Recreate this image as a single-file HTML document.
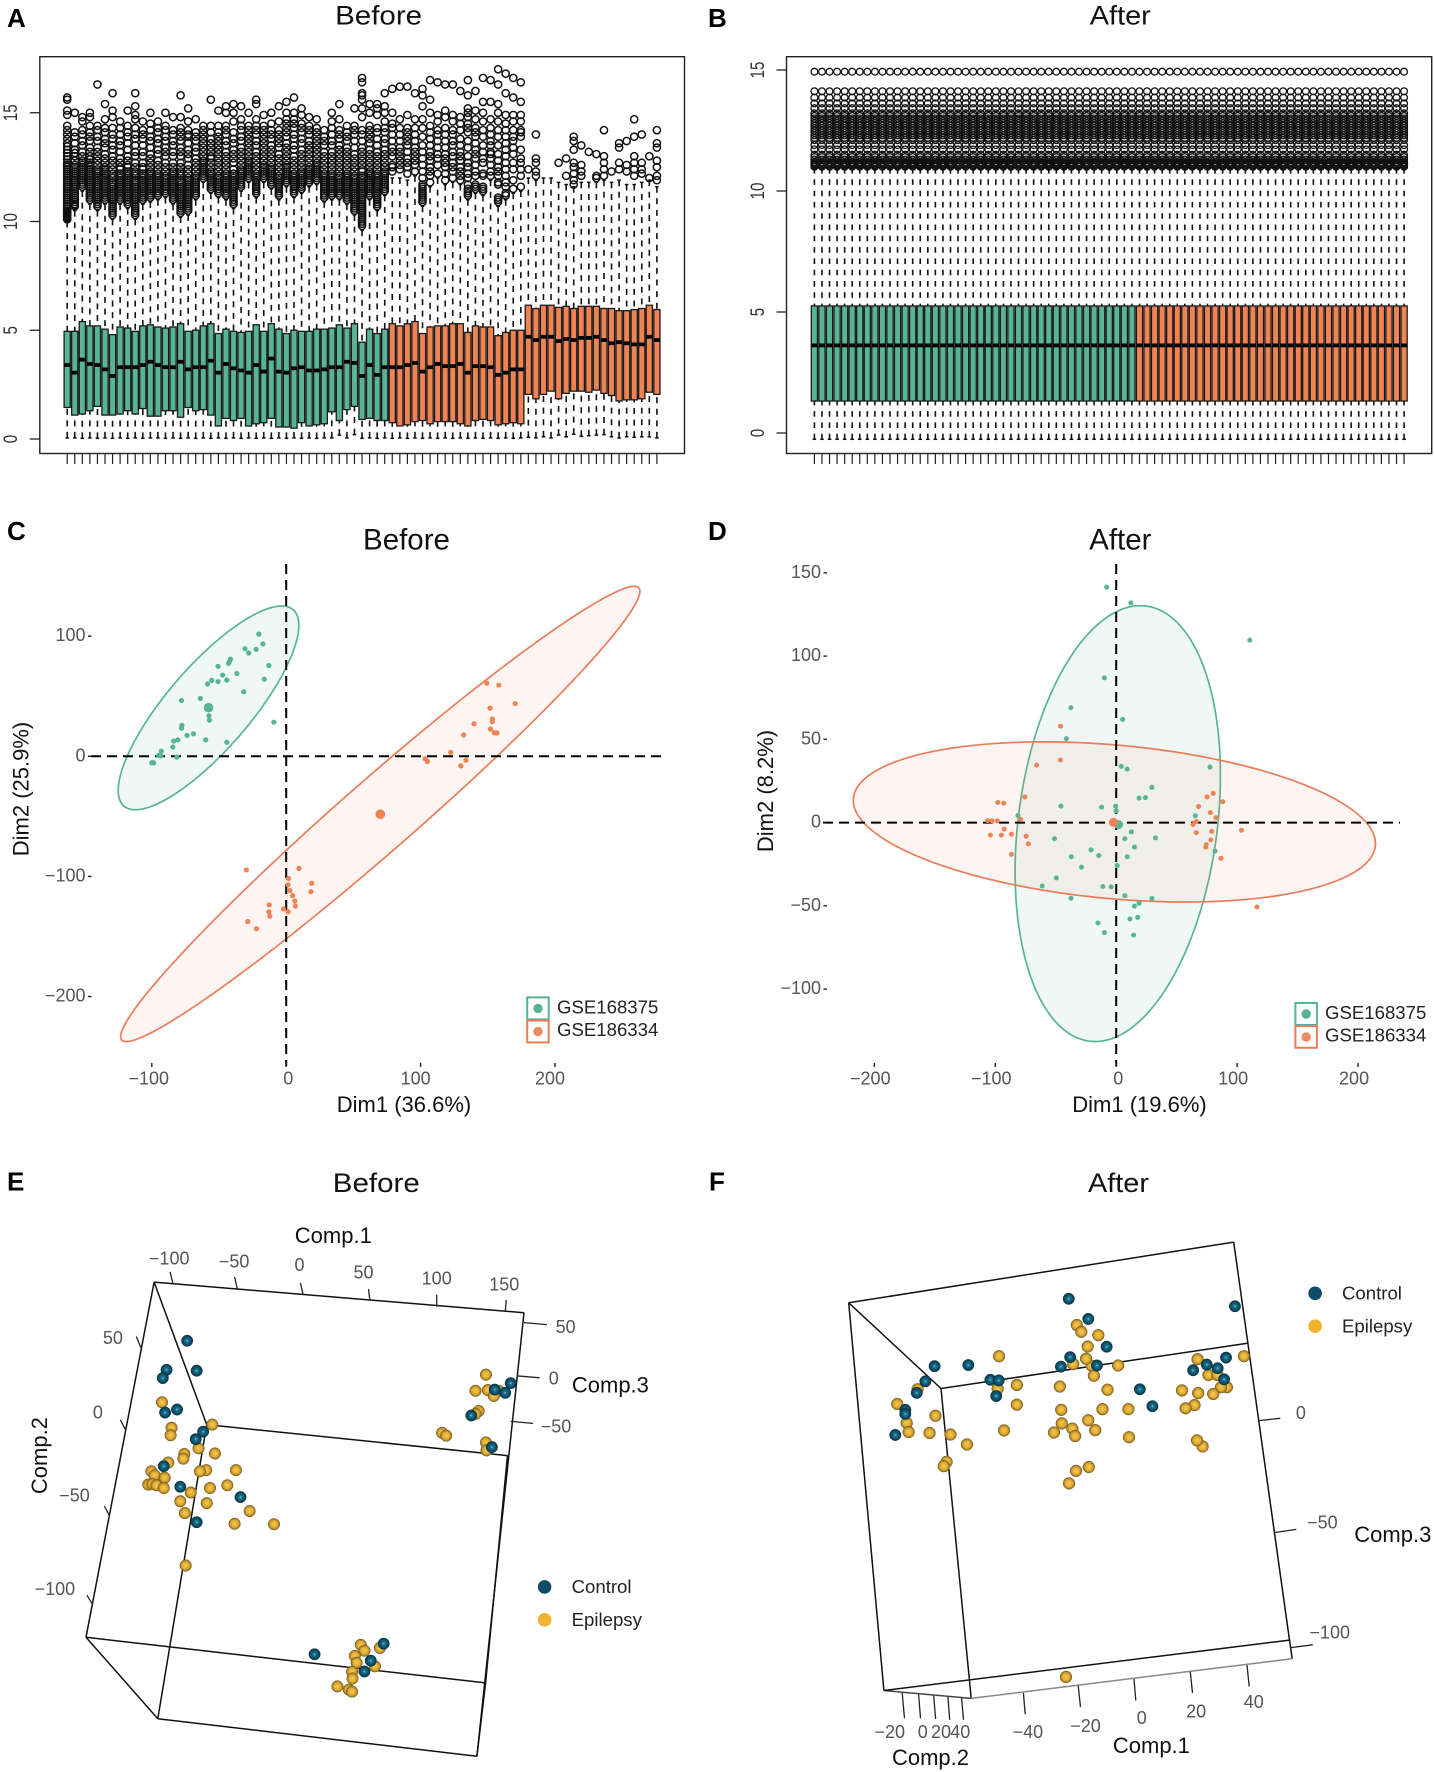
<!DOCTYPE html>
<html lang="en">
<head>
<meta charset="utf-8">
<title>Batch effect before and after correction</title>
<style>
html,body{margin:0;padding:0;background:#fff;width:1434px;height:1772px;overflow:hidden}
svg{display:block;font-family:"Liberation Sans",sans-serif}
.title{font-size:29.5px;text-anchor:middle;fill:#111}
.title-wide{font-size:27px;text-anchor:middle;fill:#111}
.letter{font-size:26px;font-weight:bold;fill:#000}
.axis-label{font-size:22px;text-anchor:middle;fill:#111}
.tick3d{font-size:18px;text-anchor:middle;fill:#555}
.legend-text{font-size:18.6px;fill:#222}
.box3d line{stroke:#111;stroke-width:1.5}
.ticks3d line{stroke:#222;stroke-width:1.3}
</style>
</head>
<body>
<svg id="figure" xmlns="http://www.w3.org/2000/svg" width="1434" height="1772" viewBox="0 0 1434 1772">
<defs>
<radialGradient id="sphere-control" cx="50%" cy="50%" r="55%">
<stop offset="0" stop-color="#8fd6e2"/><stop offset="0.2" stop-color="#1d7590"/><stop offset="0.62" stop-color="#0e4f69"/><stop offset="1" stop-color="#08303f"/>
</radialGradient>
<radialGradient id="sphere-epilepsy" cx="50%" cy="50%" r="55%">
<stop offset="0" stop-color="#f5cb52"/><stop offset="0.55" stop-color="#e0ab33"/><stop offset="1" stop-color="#75591c"/>
</radialGradient>
</defs>

<text class="letter" x="7" y="27">A</text>
<text class="letter" x="708" y="27">B</text>
<text class="letter" x="7" y="540">C</text>
<text class="letter" x="708" y="540">D</text>
<text class="letter" x="7" y="1190.5">E</text>
<text class="letter" x="709" y="1190.5">F</text>

<text class="title-wide" x="378.6" y="24.5" textLength="87" lengthAdjust="spacingAndGlyphs">Before</text>
<text class="title-wide" x="1120.3" y="24.5" textLength="61" lengthAdjust="spacingAndGlyphs">After</text>
<text class="title" x="406.5" y="549.5">Before</text>
<text class="title" x="1120.3" y="549.5">After</text>
<text class="title-wide" x="376.3" y="1192" textLength="87" lengthAdjust="spacingAndGlyphs">Before</text>
<text class="title-wide" x="1118.5" y="1192" textLength="61" lengthAdjust="spacingAndGlyphs">After</text>

<g id="panel-a"></g>
<g id="panel-b"></g>
<g id="panel-c"></g>
<g id="panel-d"></g>

<text class="axis-label" x="404" y="1112">Dim1 (36.6%)</text>
<text class="axis-label" transform="translate(20.6,789) rotate(-90)" y="8">Dim2 (25.9%)</text>
<text class="axis-label" x="1139.5" y="1112">Dim1 (19.6%)</text>
<text class="axis-label" transform="translate(765,791) rotate(-90)" y="8">Dim2 (8.2%)</text>

<g>
<rect x="527.2" y="997.4" width="21.5" height="22" fill="#fff" stroke="#55b295" stroke-width="2"/>
<circle cx="538" cy="1008.4" r="4.7" fill="#55b295"/>
<text class="legend-text" x="557" y="1013.5">GSE168375</text>
<rect x="527.2" y="1020.6" width="21.5" height="21.8" fill="#fff" stroke="#e87d5a" stroke-width="2"/>
<circle cx="538" cy="1031.5" r="4.7" fill="#ee8a62"/>
<text class="legend-text" x="557" y="1036">GSE186334</text>
</g>
<g>
<rect x="1295.4" y="1003" width="21.5" height="22" fill="#fff" stroke="#55b295" stroke-width="2"/>
<circle cx="1306.2" cy="1014" r="4.7" fill="#55b295"/>
<text class="legend-text" x="1325" y="1019">GSE168375</text>
<rect x="1295.4" y="1026" width="21.5" height="21.8" fill="#fff" stroke="#e87d5a" stroke-width="2"/>
<circle cx="1306.2" cy="1037" r="4.7" fill="#ee8a62"/>
<text class="legend-text" x="1325" y="1041.5">GSE186334</text>
</g>

<!-- Panel E frame -->
<g class="box3d">
<line x1="154.1" y1="1282.1" x2="524" y2="1312.7"/>
<line x1="154.1" y1="1282.1" x2="86" y2="1637.3"/>
<line x1="154.1" y1="1282.1" x2="206.7" y2="1424.6"/>
<line x1="206.7" y1="1424.6" x2="507.5" y2="1455.6"/>
<line x1="206.7" y1="1424.6" x2="157.8" y2="1718.7"/>
<line x1="86" y1="1637.3" x2="485.6" y2="1682.9"/>
<line x1="86" y1="1637.3" x2="157.8" y2="1718.7"/>
<line x1="157.8" y1="1718.7" x2="476.9" y2="1756.3"/>
<line x1="524" y1="1312.7" x2="476.9" y2="1756.3"/>
<line x1="507.5" y1="1455.6" x2="485.6" y2="1682.9"/>
<line x1="485.6" y1="1682.9" x2="476.9" y2="1756.3"/>
</g>
<g class="ticks3d">
<line x1="170.1" y1="1271.8" x2="172.8" y2="1282.9"/><line x1="234.6" y1="1277" x2="237.3" y2="1288.9"/><line x1="300.4" y1="1282.9" x2="303.2" y2="1294.8"/><line x1="368.5" y1="1288.9" x2="369.9" y2="1300.8"/><line x1="436.7" y1="1294.8" x2="436.7" y2="1306.7"/><line x1="506.2" y1="1300" x2="505.3" y2="1311.9"/>
<line x1="136.3" y1="1336.5" x2="140.8" y2="1347.6"/><line x1="120.3" y1="1419.8" x2="125.7" y2="1430.2"/><line x1="104.3" y1="1506" x2="109.7" y2="1515.9"/><line x1="86.9" y1="1595.2" x2="92.8" y2="1604.8"/>
<line x1="524" y1="1322.6" x2="546.9" y2="1324.6"/><line x1="516.7" y1="1375.8" x2="539.6" y2="1377.8"/><line x1="510.7" y1="1421.4" x2="533.1" y2="1423.4"/>
</g>
<g>
<text class="tick3d" x="169.2" y="1264.5">−100</text>
<text class="tick3d" x="234.1" y="1267.5">−50</text>
<text class="tick3d" x="299.5" y="1270.8">0</text>
<text class="tick3d" x="363.5" y="1278.7">50</text>
<text class="tick3d" x="436.7" y="1284.7">100</text>
<text class="tick3d" x="504.3" y="1290.6">150</text>
<text class="tick3d" x="112.9" y="1343.8">50</text>
<text class="tick3d" x="97.9" y="1418.4">0</text>
<text class="tick3d" x="74.5" y="1501.7">−50</text>
<text class="tick3d" x="54.9" y="1595">−100</text>
<text class="tick3d" x="565.6" y="1333.1">50</text>
<text class="tick3d" x="553.7" y="1384.7">0</text>
<text class="tick3d" x="556" y="1432.7">−50</text>
</g>
<text class="axis-label" x="333.3" y="1243">Comp.1</text>
<text class="axis-label" transform="translate(38.9,1455.6) rotate(-90)" y="8">Comp.2</text>
<text class="axis-label" x="610.4" y="1392.6">Comp.3</text>

<!-- Panel F frame -->
<g class="box3d">
<line x1="848.7" y1="1302.8" x2="1233.7" y2="1242.1"/>
<line x1="848.7" y1="1302.8" x2="883.9" y2="1690.5"/>
<line x1="848.7" y1="1302.8" x2="941" y2="1388.5"/>
<line x1="941" y1="1388.5" x2="1247.4" y2="1343.3"/>
<line x1="941" y1="1388.5" x2="971.2" y2="1698.4"/>
<line x1="1233.7" y1="1242.1" x2="1289.5" y2="1640.1"/>
<line x1="1289.5" y1="1640.1" x2="1292.2" y2="1658.7"/>
<line x1="883.9" y1="1690.5" x2="971.2" y2="1698.4" style="stroke:#444"/>
<line x1="883.9" y1="1690.5" x2="1289.5" y2="1640.1"/>
<line x1="971.2" y1="1698.4" x2="1292.2" y2="1658.7" style="stroke:#888"/>
</g>
<g class="ticks3d">
<line x1="902.2" y1="1692.9" x2="904.5" y2="1718.3"/><line x1="918.6" y1="1694.4" x2="920.5" y2="1718.3"/><line x1="933.7" y1="1695.6" x2="935.6" y2="1719"/><line x1="947.9" y1="1696.8" x2="949.7" y2="1719.8"/><line x1="961.6" y1="1698" x2="963.5" y2="1719.8"/>
<line x1="1023.4" y1="1692.9" x2="1025.2" y2="1714.3"/><line x1="1078.2" y1="1685.7" x2="1080.5" y2="1707.1"/><line x1="1134" y1="1679" x2="1135.8" y2="1700.4"/><line x1="1190.3" y1="1671.8" x2="1192.5" y2="1692.9"/><line x1="1247" y1="1665.1" x2="1249.2" y2="1686.5"/>
<line x1="1258.8" y1="1420.6" x2="1280.3" y2="1418.3"/><line x1="1274.8" y1="1532.5" x2="1296.3" y2="1529.4"/><line x1="1290.8" y1="1647.6" x2="1312.8" y2="1644.8"/>
</g>
<g>
<text class="tick3d" x="889.8" y="1738.2">−20</text>
<text class="tick3d" x="922.8" y="1738.2">0</text>
<text class="tick3d" x="941" y="1738.2">20</text>
<text class="tick3d" x="960.3" y="1738.2">40</text>
<text class="tick3d" x="1027.9" y="1738.2">−40</text>
<text class="tick3d" x="1085.5" y="1731.9">−20</text>
<text class="tick3d" x="1141.8" y="1724">0</text>
<text class="tick3d" x="1196.2" y="1717.6">20</text>
<text class="tick3d" x="1253.8" y="1708.1">40</text>
<text class="tick3d" x="1300.9" y="1419.2">0</text>
<text class="tick3d" x="1322.4" y="1528.7">−50</text>
<text class="tick3d" x="1329.7" y="1638.6">−100</text>
</g>
<text class="axis-label" x="1151.4" y="1753">Comp.1</text>
<text class="axis-label" x="930.5" y="1765">Comp.2</text>
<text class="axis-label" x="1392.8" y="1541.8">Comp.3</text>

<g id="points-e"></g>
<g id="points-f"></g>

<g>
<circle cx="544.6" cy="1586.9" r="6.8" fill="#0e4c68"/>
<text class="legend-text" x="571.6" y="1593">Control</text>
<circle cx="544.6" cy="1619.8" r="6.8" fill="#efb32f"/>
<text class="legend-text" x="571.6" y="1626">Epilepsy</text>
</g>
<g>
<circle cx="1315.1" cy="1293.3" r="6.8" fill="#0e4c68"/>
<text class="legend-text" x="1342" y="1299.5">Control</text>
<circle cx="1315.1" cy="1326.2" r="6.8" fill="#efb32f"/>
<text class="legend-text" x="1342" y="1332.5">Epilepsy</text>
</g>
</svg>

<script>
// ---------- Panel A data ----------
const groupCounts = [43, 36];
const q1A = [1.45,1.1,1.15,1.3,1.5,1.1,1.1,1.15,1.3,1.15,1.4,1.05,1.05,1.3,1.3,1.0,1.45,1.3,1.35,1.1,.6,.95,.85,.95,.6,.7,.75,.95,.55,.55,.5,.75,.6,.65,.7,1.25,.85,1.35,1.5,.9,.95,.85,.85,
 .75,.6,.65,.8,.85,.7,.8,.8,.8,.7,.6,.85,.9,.85,.65,.7,.75,.7,
 2.05,1.85,2.05,2.2,1.85,2.1,2.2,2.2,2.15,2.25,2.1,2.0,1.75,1.8,1.8,1.85,2.15,2.05];
const medA = [3.4,3.05,3.65,3.45,3.4,3.2,2.9,3.3,3.3,3.3,3.4,3.55,3.4,3.3,3.3,3.55,3.2,3.3,3.3,3.6,3.05,3.45,3.25,3.15,3.05,3.4,3.1,3.7,3.1,3.05,3.25,3.3,3.15,3.15,3.2,3.3,3.3,3.55,3.5,2.9,3.4,2.95,3.3,
 3.3,3.3,3.4,3.5,3.1,3.3,3.45,3.35,3.35,3.45,3.05,3.35,3.35,3.3,2.95,3.05,3.2,3.2,
 4.7,4.55,4.7,4.7,4.5,4.6,4.55,4.65,4.65,4.7,4.55,4.4,4.45,4.4,4.35,4.35,4.7,4.55];
const q3A = [4.95,4.95,5.4,5.2,5.2,5.05,4.8,5.15,5.1,4.95,5.2,5.25,5.15,5.1,5.15,5.3,4.95,5.0,5.2,5.3,4.85,5.05,4.95,4.9,4.95,5.25,4.95,5.3,5.05,4.85,5.0,4.95,4.95,5.05,5.05,5.1,5.25,5.1,5.3,4.45,5.05,4.85,5.05,
 5.3,5.2,5.3,5.4,4.85,5.15,5.2,5.2,5.3,5.3,4.9,5.2,5.15,5.15,4.75,4.9,5.0,5.0,
 6.15,6.0,6.15,6.15,6.05,6.1,6.0,6.1,6.1,6.1,6.0,6.0,5.9,5.9,5.95,6.0,6.15,5.95];
const whiskerHiA = [10,10.5,11.4,10.8,10.5,10.8,10.1,10.8,10.6,10.1,10.8,10.9,11,11.1,10.8,10.2,10.3,11,11.8,11.3,11.1,11,10.6,11.4,11.8,11.1,11.8,11.5,11,11.6,11.1,11.3,11.6,11.7,10.9,11,11,10.8,10.3,9.6,11,10.5,11.2,
 12,12,11.9,12.1,10.7,11.6,12,11.7,11.8,11.7,11,11.3,11.2,11.9,10.7,11,11.3,11.4,
 12,11.9,12,12,11.8,11.7,11.6,11.8,11.8,11.8,11.9,11.8,11.9,11.7,11.7,11.8,11.9,11.6];
const whiskerLoA = [.05,.05,.03,.05,.03,.05,.03,.05,.03,.05,.03,.05,.05,.03,.05,.03,.05,.03,.05,.03,.05,.03,.05,.03,.05,.03,.05,.03,.05,.03,.05,.03,.05,.03,.05,.05,.18,.05,.2,.03,.05,.03,.05,
 .03,.05,.03,.05,.03,.05,.03,.05,.03,.05,.03,.05,.03,.05,.03,.05,.03,.05,
 .08,.05,.1,.05,.18,.1,.22,.12,.15,.18,.2,.1,.05,.1,.08,.1,.1,.05];
const outliersA = [
[10.1,10.2,10.3,10.4,10.5,10.7,10.9,11.1,11.3,11.5,11.7,11.9,12.2,12.4,12.7,13,13.3,13.6,14,14.2,14.4,14.9,15.1,15.6,15.7],
[10.7,10.8,11,11.2,11.4,11.7,12,12.3,12.6,13.3,13.9,14.1,15],
[11.6,11.9,12.2,12.6,13,13.5,14,14.6,14.8],
[11,11.1,11.3,11.5,11.7,12,12.3,12.7,13.2,13.7,14.1,14.8,15],
[10.7,10.8,11,11.2,11.4,11.7,12,12.4,12.8,13.2,13.7,14.2,14.4,16.3],
[11,11.2,11.5,11.8,12.1,12.5,12.9,13.4,13.8,14.3,14.7,15.4],
[10.3,10.4,10.6,10.8,11,11.3,11.6,12,12.4,12.8,13.3,13.8,14.3,14.8,15.1,15.9],
[11,11.2,11.4,11.7,12,12.4,12.9,13.5,14,14.6],
[10.8,11,11.2,11.4,11.7,12,12.3,12.8,13.3,13.9,14.4,15.1],
[10.3,10.4,10.6,10.9,11.1,11.4,11.7,12.1,12.5,13,13.5,14,14.7,14.9,15.3,15.9],
[11,11.2,11.4,11.6,11.9,12.2,12.7,13.2,13.8,14.2,14.6],
[11.1,11.2,11.4,11.7,12,12.3,12.7,13.1,13.7,14.2,15],
[11.2,11.4,11.6,11.9,12.2,12.6,13.1,13.6,14.1,14.6],
[11.3,11.5,11.8,12.1,12.5,13,13.4,13.9,14.4,15],
[11,11.2,11.4,11.7,12,12.3,12.7,13.2,13.7,14.2,14.8],
[10.4,10.5,10.7,10.9,11.1,11.4,11.7,12.1,12.5,13,13.4,13.9,14.3,14.8,15.8],
[10.5,10.7,10.9,11.1,11.4,11.7,12,12.4,12.9,13.3,13.9,14.2,14.6,15.2],
[11.2,11.4,11.6,11.9,12.3,12.7,13.2,13.7,14.1,14.7],
[12,12.2,12.5,12.8,13.2,13.6,14,14.2,14.4],
[11.5,11.7,12,12.3,12.7,13,13.4,13.8,14.1,14.4,15.6],
[11.3,11.5,11.8,12.1,12.5,12.9,13.3,13.7,14.1,14.4,15.1],
[11.2,11.4,11.6,11.9,12.2,12.6,13,13.5,14,14.4,15,15.3],
[10.8,10.9,11.1,11.3,11.6,11.9,12.2,12.7,13.1,13.6,14.1,14.6,15,15.4],
[11.6,11.8,12.1,12.4,12.8,13.2,13.7,14.2,14.7,15.3],
[12,12.2,12.5,12.8,13.2,13.6,14,14.4,15],
[11.3,11.5,11.7,12,12.4,12.8,13.2,13.7,14.2,14.7,15.4,15.6],
[12,12.2,12.4,12.8,13.2,13.6,14,14.4,14.9],
[11.7,11.9,12.2,12.5,12.9,13.3,13.8,14.2,14.5,15],
[11.2,11.3,11.5,11.8,12.1,12.5,12.9,13.4,13.8,14.2,14.6,15.3],
[11.8,12,12.3,12.6,13,13.4,13.9,14.3,14.7,15,15.5],
[11.3,11.5,11.7,12,12.4,12.8,13.3,13.8,14.3,14.7,15,15.7],
[11.5,11.7,12,12.3,12.7,13.1,13.6,14.1,14.5,14.9,15.2],
[11.8,12,12.3,12.7,13.1,13.5,14,14.4,14.8],
[11.9,12.1,12.4,12.7,13.1,13.5,13.9,14.3,14.7],
[11.1,11.2,11.4,11.6,11.9,12.2,12.6,13,13.5,13.9,14.2],
[11.2,11.4,11.6,11.9,12.2,12.6,13,13.5,14,14.6,15],
[11.2,11.3,11.5,11.8,12.1,12.5,12.9,13.3,13.8,14.2,14.7,15.4],
[11,11.2,11.4,11.6,11.9,12.2,12.6,13,13.4,13.9,14.4],
[10.5,10.6,10.8,11,11.2,11.5,11.8,12.1,12.5,12.9,13.4,14,14.4,15.2],
[9.8,9.9,10,10.2,10.4,10.6,10.9,11.2,11.5,11.8,12.1,12.4,12.8,13.2,13.7,14.2,14.8,15.2,15.6,15.8,15.9,16.4,16.6],
[11.2,11.3,11.5,11.7,12,12.3,12.7,13.1,13.6,14,14.4,15,15.4],
[10.7,10.8,11,11.2,11.4,11.7,12,12.4,12.8,13.2,13.8,14.3,14.9,15.2,15.4],
[11.4,11.5,11.7,12,12.3,12.7,13.1,13.6,14.1,14.6,15,15.3,15.9],
[12.3,12.6,13,13.4,14,14.3,15,16.1],
[12.4,12.6,13,13.4,14,14.7,16.2],
[12.2,12.5,12.9,13.5,13.9,14.3,14.9,16.2],
[12.3,12.6,13,13.4,14,14.7,15.9],
[10.9,11,11.2,11.4,11.7,12,12.6,13.2,13.9,14.7,15.3,15.8,16.1],
[11.8,12.1,12.5,13,13.5,14.4,15.6,16.5],
[12.2,12.6,13.1,13.7,14.2,14.9,16.4],
[11.9,12.2,12.5,12.9,13.4,14,14.8,15.1,16.3],
[12,12.3,12.7,13.2,13.7,14.2,14.9,16.3],
[11.9,12.1,12.5,13,13.5,14.2,14.8,16],
[11.2,11.4,11.7,12.2,12.7,13.4,14.1,14.5,15,15.2,15.8,16.5],
[11.5,11.7,12.3,12.9,13.3,13.9,14.3,15.1,16],
[11.4,11.5,12.2,12.7,13.2,13.9,14.6,15.5,16.6],
[12.1,12.3,12.9,13.2,13.7,14.3,15.5,16.5],
[10.9,11,11.7,12.1,12.5,13.1,13.9,14.6,15.4,16.3,17],
[11.2,11.3,11.8,12.4,13,13.6,14.2,14.9,15.9,16.8],
[11.5,12.4,13.1,13.7,14.2,14.9,15.7,16.6],
[11.6,12.1,12.9,13.9,14.2,14.6,14.9,15.5,16.4],
[12.4],
[12.1,12.3,12.7,12.9,14],
[],
[],
[12.7],
[12.1,12.9],
[11.7,11.9,12.2,12.5,12.7,13.3,13.7,13.9],
[12.1,12.3,12.6,13.5],
[13.2],
[12,12.1,13.1],
[12.1,12.4,12.7,13,14.2],
[12.3],
[12.4,12.7,13.4,13.6],
[12.3,12.6,13.7],
[12.1,12.4,12.7,13,13.9,14.7],
[12.2,12.4,12.7,14],
[12,13],
[11.9,12.1,12.5,12.8,13.4,13.6,14.2]
];
const denseOutliersA = [
[10.15,10.25,10.35,10.45,10.6,10.8,11,11.2,11.4,11.6,11.8,12,12.1,12.3,12.5,12.6,12.85,13.15,13.45,13.8],
[10.75,10.9,11.1,11.3,11.5,11.6,11.8,11.9,12.1,12.2,12.4,12.5,12.8,13,13.15,13.6],
[11.7,11.8,12,12.1,12.3,12.4,12.5,12.7,12.8,13.2,13.7,14.2],
[11.2,11.4,11.6,11.8,11.9,12.1,12.2,12.4,12.5,12.6,12.85,13,13.4,13.9,14.4],
[10.9,11.1,11.3,11.5,11.6,11.8,11.9,12.1,12.2,12.3,12.6,13,13.4,13.9],
[11.1,11.3,11.4,11.6,11.7,11.9,12,12.2,12.3,12.4,12.7,13.1,13.6,14.1],
[10.5,10.7,10.9,11.1,11.2,11.4,11.5,11.7,11.8,12.1,12.2,12.6,13,13.5,14],
[11.1,11.3,11.5,11.6,11.8,11.9,12.1,12.2,12.5,12.7,13.2,13.7,14.3],
[10.9,11.1,11.3,11.5,11.6,11.8,11.9,12.1,12.2,12.5,12.6,13,13.6,14.1],
[10.5,10.7,10.8,11,11.2,11.3,11.5,11.6,11.8,11.9,12.2,12.3,12.7,13.2,13.8,14.3],
[11.1,11.3,11.5,11.7,11.8,12,12.1,12.4,12.5,13,13.5,14],
[11.3,11.5,11.6,11.8,11.9,12.1,12.2,12.5,12.9,13.4,13.9,14.5],
[11.3,11.5,11.7,11.8,12,12.1,12.4,12.8,13.3,13.8,14.3],
[11.4,11.6,11.7,11.9,12,12.3,12.7,13.2,13.7,14.2],
[11.1,11.3,11.5,11.6,11.8,11.9,12.1,12.2,12.5,13,13.5,14],
[10.6,10.8,11,11.2,11.3,11.5,11.6,11.8,11.9,12.2,12.3,12.7,13.2,13.7,14.1],
[10.6,10.8,11,11.2,11.3,11.5,11.6,11.8,11.9,12.2,12.6,13.1,13.6,14],
[11.3,11.5,11.7,11.8,12,12.1,12.5,12.9,13.4,13.9],
[12.1,12.3,12.4,12.6,12.7,13,13.4,13.8],
[11.6,11.8,11.9,12.1,12.2,12.5,12.9,13.2,13.6],
[11.4,11.6,11.7,11.9,12,12.3,12.7,13.1,13.5,13.9],
[11.3,11.5,11.7,11.8,12,12.1,12.4,12.8,13.2,13.7,14.2],
[11,11.2,11.4,11.5,11.7,11.8,12,12.1,12.4,12.9,13.3,13.8],
[11.7,11.9,12,12.2,12.3,12.6,13,13.4,13.9,14.4],
[12.1,12.3,12.4,12.6,12.7,13,13.4,13.8,14.2],
[11.4,11.6,11.8,11.9,12.1,12.2,12.6,13,13.5,14,14.4],
[12.1,12.3,12.5,12.6,13,13.4,13.8,14.2],
[11.8,12,12.1,12.3,12.4,12.7,13.1,13.5,14],
[11.4,11.6,11.7,11.9,12,12.3,12.7,13.1,13.6,14],
[11.9,12.1,12.2,12.4,12.5,12.8,13.2,13.6,14.1,14.5],
[11.4,11.6,11.8,11.9,12.1,12.2,12.6,13,13.5,14,14.5],
[11.6,11.8,11.9,12.1,12.2,12.5,12.9,13.3,13.8,14.3],
[11.9,12.1,12.2,12.4,12.5,12.9,13.3,13.7,14.2],
[12,12.2,12.3,12.5,12.6,12.9,13.3,13.7,14.1],
[11.3,11.5,11.7,11.8,12,12.1,12.4,12.8,13.2,13.7],
[11.3,11.5,11.7,11.8,12,12.1,12.4,12.8,13.2,13.7,14.3],
[11.4,11.6,11.7,11.9,12,12.3,12.7,13.1,13.5,14],
[11.1,11.3,11.5,11.7,11.8,12,12.1,12.4,12.8,13.2,13.7,14.1],
[10.7,10.9,11.1,11.3,11.4,11.6,11.7,11.9,12,12.3,12.7,13.1,13.7,14.2],
[10.1,10.3,10.5,10.7,10.8,11,11.1,11.3,11.4,11.6,11.7,11.9,12,12.3,12.6,13,13.4,14],
[11.4,11.6,11.8,11.9,12.1,12.2,12.5,12.9,13.3,13.8,14.2],
[10.9,11.1,11.3,11.5,11.6,11.8,11.9,12.1,12.2,12.6,13,13.5,14.1],
[11.6,11.8,11.9,12.1,12.2,12.5,12.9,13.3,13.8,14.3],
[12.5,13.2,13.7,14.5],
[12.8,13.2,13.7,14.3],
[12.7,13.2,13.7,14.1],
[12.8,13.2,13.7,14.3],
[11.1,11.3,11.5,11.6,12.3,12.9,13.5,14.3],
[12.3,12.8,13.2,13.8,14.1,15],
[12.9,13.4,14,14.6],
[12.7,13.1,13.7,14.3],
[12.5,13,13.5,14,14.6],
[12.3,12.8,13.2,13.8,14.5],
[11.3,11.5,12,12.5,13,13.7,14.3,14.8],
[11.6,12.1,12.6,13.1,13.6,14.1,14.7],
[11.6,12.1,12.9,13.5,14.2,15],
[12.6,13.1,13.5,14,14.7],
[11.1,11.8,12.3,12.8,13.5,14.2,15],
[11.6,12.1,12.7,13.3,13.9,14.5],
[11.9,12.7,13.4,13.9,14.6],
[12.4,12.7,13.3,14.1],
[],[],[],[],[],[],[],[],[],[],[],[],[],[],[],[],[],[]
];
const yTicksA = [0, 5, 10, 15];

// ---------- Panel B data ----------
const sampleCountB = 79;
const q1B = 1.32;
const medB = 3.62;
const q3B = 5.25;
const whiskerHiB = 10.95;
const whiskerLoB = -0.26;
const outlierLevelsB = [11,11.05,11.1,11.15,11.2,11.3,11.4,11.5,11.72,11.9,12.1,12.2,12.3,12.4,12.5,12.6,12.7,12.8,12.9,13,13.1,13.21,13.42,13.62,13.86,14.12,14.93];
const yTicksB = [0, 5, 10, 15];

// ---------- Panel C data ----------
const greenPointsC = [[-20.4,101.7],[-17.3,93.6],[-22.4,89],[-30.6,89.6],[-27.9,86],[-41.5,80.9],[-42.2,78.9],[-42.9,77.3],[-50.7,74.9],[-12.9,75.6],[-36.7,68.9],[-47.3,67.6],[-55.4,63.2],[-50.7,62.2],[-44.2,63.5],[-58.5,60.2],[-16.3,64.2],[-31.6,53.8],[-63.9,48.2],[-77.9,46.5],[-57.5,33.8],[-57.1,30.1],[-9.2,28.4],[-77.6,25.8],[-77.9,23.4],[-69,18.7],[-73.8,17.4],[-80.6,13.7],[-83.7,12.7],[-59.9,13.7],[-44.2,11.7],[-84.4,7.7],[-92.9,4.3],[-94.9,.7],[-93.2,.3],[-81.3,-.7],[-100,-5.4],[-98.6,-5.4]];
const orangePointsC = [[149.3,60.9],[158.2,59.2],[170.4,43.8],[151.7,40.1],[153.4,31.1],[153.4,28.8],[139.8,27.1],[152,22.7],[154.8,19.7],[156.8,19.4],[132,17.7],[122.4,3.3],[103.4,-2],[105.1,-4.3],[133.7,-3.3],[129.9,-8],[-29.6,-94.6],[9.5,-93.3],[1.7,-101.7],[19,-105.7],[1.4,-107],[2.7,-111.7],[18.4,-112.7],[4.8,-116],[6.5,-120.4],[6.8,-124.7],[-12.6,-123.7],[-12.9,-129.4],[-12.2,-133.1],[-2,-127],[1.4,-129.4],[-28.6,-137.5],[-22.1,-143.5]];
const greenCentroidC = [-57.8, 40.5];
const orangeCentroidC = [70, -48.2];
const greenEllipseC = [-57.8, 40.3, 67.2, 84.8, 0.81];
const orangeEllipseC = [70, -48, 193.2, 189.5, 0.978];
const xTicksC = [-100, 0, 100, 200];
const yTicksC = [-200, -100, 0, 100];

// ---------- Panel D data ----------
const greenPointsD = [[-7.9,141.4],[12.1,132],[110.4,109.6],[-9.8,86.9],[-37.4,69],[5.3,62],[-41.2,50.4],[4.2,33.8],[9.1,32.1],[77.5,33.3],[29.5,21.2],[18.9,14.7],[24.2,15],[-45.7,9.9],[-12.1,9.2],[-.4,9.9],[0,7],[-81.3,4.3],[65.4,4.1],[12.5,-5.6],[7.2,-9.7],[32.5,-9.2],[-51,-9.7],[15.1,-14.7],[-20.8,-16.4],[-14.4,-19.8],[-37.1,-20.5],[9.1,-20.5],[81.7,-17.1],[-28.7,-26.8],[.8,-25.8],[-49.5,-33.3],[-61.2,-38.1],[-11,-38.4],[-4.2,-38.6],[7.2,-43.9],[-37.4,-45.4],[29.5,-45.6],[18.9,-48.5],[15.1,-50.2],[17.8,-56.9],[11.3,-57.9],[-15.1,-60.3],[-9.8,-66.1],[14.4,-67.6]];
const orangePointsD = [[-46.1,57.9],[-46.1,37.6],[-65.8,34.5],[-75.6,15.4],[-97.9,12.1],[-93,11.6],[-106.2,1.2],[-102.5,1],[-98.3,1],[-79,1.9],[-92.6,-3.9],[-104,-7.5],[-94.9,-7.5],[-86.6,-7],[-74.5,-8.2],[-72.6,-12.8],[-86.6,-19.1],[80.2,17.6],[75.2,15.4],[88.1,12.5],[68.1,9.7],[77.9,6],[82.4,2.9],[66.2,.7],[63.5,-1.2],[103.6,-4.6],[66.2,-6],[79,-5.3],[78.3,-10.4],[74.5,-13.3],[74.1,-14.7],[86.6,-21.5],[116.4,-50.7]];
const greenCentroidD = [1.9, -1.2];
const orangeCentroidD = [-2.3, 0.2];
const greenEllipseD = [1.3, -0.6, 84.9, 130.9, 0.22];
const orangeEllipseD = [-1.5, 0.4, 215.9, 48.1, -0.27];
const xTicksD = [-200, -100, 0, 100, 200];
const yTicksD = [-100, -50, 0, 50, 100, 150];

// ---------- Panel E data (Comp.1, Comp.2 as projected on screen) ----------
const epilepsyE = [[-104,10.2],[-96.9,-4.6],[-97.6,-9],[-66.6,-2.8],[-76.8,-16.6],[-64.6,-19.6],[-87.4,-19.9],[-88.1,-22.6],[-99.3,-24.9],[-71.1,-29.3],[-75.8,-30],[-49,-29.3],[-111.9,-30],[-109.5,-32.3],[-102,-33.7],[-114.2,-37.7],[-111.2,-37.4],[-108.1,-38.1],[-102.7,-39.7],[-55.4,-38.1],[-68.3,-39.7],[-82.6,-42.3],[-90.4,-47.4],[-70.7,-48.5],[-87,-54.3],[-38.8,-53.1],[-50,-60.5],[-20.7,-60.8],[-86.4,-84.8],[137,26.3],[129.2,16.9],[138.4,17.3],[146.5,16.9],[142.8,13.9],[131.6,5.1],[129.2,3.5],[104.4,-7.6],[107.4,-9.2],[137,-13.2],[137.4,-17.8],[43.9,-131],[46.6,-134.4],[58.1,-132.8],[39.4,-137.4],[40.8,-141.4],[54.4,-143.5],[37.4,-146.7],[37.7,-150.6],[26.5,-155.2],[35,-157.1],[37.4,-158.2]];
const controlE = [[-85.3,46],[-100.6,29.1],[-103.4,24.3],[-78.2,28.6],[-92.8,6],[-101.7,4.2],[-73.4,-6.9],[-78.9,-11.3],[-102.7,-27],[-90.4,-39],[-45.6,-45],[-78.2,-59.6],[9.5,-136.5],[60.9,-130.3],[51.3,-140.2],[46.6,-146.5],[155.4,21.3],[151.3,15.7],[143.5,17.6],[126.1,2.5],[141.4,-15.9]];

// ---------- Panel F data (Comp.1, Comp.3 as projected on screen) ----------
const epilepsyF = [[-21,41.9],[-19.4,38.9],[-13.3,37.4],[-17.1,32.4],[-22.3,24.6],[-15.7,23.9],[-14.9,19.5],[-6.2,24],[-48.9,28.1],[-78.1,13.5],[-49.4,13.7],[-42.5,15.4],[-27.1,14.7],[-10,13.3],[-42.5,6.7],[-85.4,7],[-71.7,1.8],[-82,-1.4],[-81.3,-5.4],[-73.8,-5.8],[-66.3,-6.5],[-60.4,-10.9],[-47.1,-4.7],[-26.6,4.4],[-11.8,4.7],[-2.5,4.7],[-26.4,-1.6],[-22.6,-3.9],[-16.9,-.2],[-29.2,-5.6],[-21.6,-7.2],[-14.4,-4.6],[-2.3,-7.7],[-67.7,-18.6],[-68.7,-20.5],[-21.3,-22.6],[-16.7,-20.9],[-23.8,-28.1],[16.7,13],[22.5,11.8],[22.3,26.8],[38.9,28.1],[26.2,19.8],[29.4,19.8],[32.8,14.4],[30.7,14.4],[27.9,11.4],[21.2,6.5],[18,5.1],[24.1,-11.8],[22.1,-9.1],[-24.9,-113.7]];
const controlF = [[-23.9,53.5],[-16.9,44.6],[35.7,50.2],[-10.3,32.3],[-23.4,27.7],[-72,23.7],[-59.9,24.2],[-26.7,23.5],[-13.8,24],[-75.3,17],[-78.4,11.9],[-52,17.7],[-49,17.4],[-49.9,10.5],[-82.5,4.4],[-82.5,2.6],[-86.1,-6.7],[1.6,13.5],[6.1,6],[32.5,27.5],[25.6,24.4],[29.5,22.8],[20.7,21.9],[31.8,17.9]];
const epilepsyFrontF = [[-17.7,27]];

// ---------- Scales ----------
const xA = i => 67.2 + 7.56 * i;
const yA = v => 439 - 21.75 * v;
const xB = i => 814.4 + 7.56 * i;
const yB = v => 433 - 24.2 * v;
const xC = v => 286.2 + 1.344 * v;
const yC = v => 756.3 - 1.2013 * v;
const xD = v => 1116.2 + 1.2094 * v;
const yD = v => 822.6 - 1.665 * v;
const xE = v => 301.8 + 1.3443 * v;
const yE = v => 1419.8 - 1.718 * v;
const xF = v => 1135.4 + 2.789 * v;
const yF = v => 1419.8 - 2.262 * v;

const NS = 'http://www.w3.org/2000/svg';
const GREEN = '#58b496', ORANGE = '#ef8354';
function mk(tag, attrs, parent, text) {
  const e = document.createElementNS(NS, tag);
  for (const k in attrs) e.setAttribute(k, attrs[k]);
  if (text !== undefined) e.textContent = text;
  parent.appendChild(e);
  return e;
}
const minus = v => (v < 0 ? '\u2212' + (-v) : String(v));

function drawFrame(g, x0, y0, x1, y1) {
  const r = mk('rect', {x: x0, y: y0, width: x1 - x0, height: y1 - y0, fill: 'none', stroke: '#222', 'stroke-width': 1.4}, g);
  
  
}
function drawRotatedYAxis(g, ticks, yScale, xLine, xText) {
  ticks.forEach(t => {
    const l = mk('line', {x1: xLine - 10, x2: xLine, y1: yScale(t), y2: yScale(t), stroke: '#222', 'stroke-width': 1.3}, g);
    
    
    const lab = mk('text', {transform: `translate(${xText},${yScale(t)}) rotate(-90) scale(0.8,1)`, 'text-anchor': 'middle', y: 6.8, 'font-size': 19, fill: '#333'}, g, minus(t));
    
    
  });
}
function drawBox(g, cx, w, ys, color, ends, dash) {
  const up = mk('line', {x1: cx, x2: cx, y1: ends.hi, y2: ys.q3, stroke: '#111', 'stroke-width': 1.6, 'stroke-dasharray': dash}, g);
  
  
  const lo = mk('line', {x1: cx, x2: cx, y1: ends.lo, y2: ys.q1, stroke: '#111', 'stroke-width': 1.6, 'stroke-dasharray': dash}, g);
  
  
  [ends.hi, ends.lo].forEach(y => {
    const cap = mk('line', {x1: cx - 1.8, x2: cx + 1.8, y1: y, y2: y, stroke: '#111', 'stroke-width': 1.5}, g);
    
    
  });
  const r = mk('rect', {x: cx - w / 2, y: ys.q3, width: w, height: ys.q1 - ys.q3, fill: color, stroke: '#1a1a1a', 'stroke-width': 1.3}, g);
  
  
  const m = mk('line', {x1: cx - w / 2, x2: cx + w / 2, y1: ys.med, y2: ys.med, stroke: '#000', 'stroke-width': 3.8}, g);
  
  
}
function drawOutlier(g, cx, cy, r, sw) {
  const c = mk('circle', {cx: cx, cy: cy, r: r, fill: 'none', stroke: '#111', 'stroke-width': sw}, g);
  
  
}
function drawXTicks(g, n, xScale, y0) {
  for (let i = 0; i < n; i++) {
    const t = mk('line', {x1: xScale(i), x2: xScale(i), y1: y0, y2: y0 + 10.5, stroke: '#222', 'stroke-width': 1.2}, g);
    
    
  }
}

// Panel A
(function () {
  const g = document.getElementById('panel-a');
  drawFrame(g, 39.8, 56.7, 684.5, 453.5);
  drawRotatedYAxis(g, yTicksA, yA, 39.8, 10);
  const n = groupCounts[0] + groupCounts[1];
  for (let i = 0; i < n; i++) {
    drawBox(g, xA(i), 6.2, {q1: yA(q1A[i]), med: yA(medA[i]), q3: yA(q3A[i])}, i < groupCounts[0] ? GREEN : ORANGE, {hi: yA(whiskerHiA[i]), lo: yA(whiskerLoA[i])}, '6 5.6');
    outliersA[i].forEach(v => drawOutlier(g, xA(i), yA(v), 3.6, 1.5));
    denseOutliersA[i].forEach(v => drawOutlier(g, xA(i), yA(v), 3.6, 1.5));
  }
  drawXTicks(g, n, xA, 453.5);
})();

// Panel B
(function () {
  const g = document.getElementById('panel-b');
  drawFrame(g, 786.5, 56.7, 1431.7, 453.5);
  drawRotatedYAxis(g, yTicksB, yB, 786.5, 757);
  for (let i = 0; i < sampleCountB; i++) {
    drawBox(g, xB(i), 6.2, {q1: yB(q1B), med: yB(medB), q3: yB(q3B)}, i < groupCounts[0] ? GREEN : ORANGE, {hi: yB(whiskerHiB), lo: yB(whiskerLoB)}, '5.6 5.7');
    outlierLevelsB.forEach(v => drawOutlier(g, xB(i), yB(v), 3.4, 1.3));
  }
  drawXTicks(g, sampleCountB, xB, 453.5);
})();

// Panels C & D
function ellipsePath(e, xs, ys) {
  const [cx, cy, sx, sy, rho] = e;
  const phi = Math.acos(rho);
  let d = '';
  for (let k = 0; k <= 180; k++) {
    const t = k / 180 * 2 * Math.PI;
    d += (k ? 'L' : 'M') + xs(cx + sx * Math.cos(t)).toFixed(2) + ' ' + ys(cy + sy * Math.cos(t + phi)).toFixed(2);
  }
  return d + 'Z';
}
function drawPca(g, cfg) {
  const ge = mk('path', {d: ellipsePath(cfg.greenEllipse, cfg.x, cfg.y), fill: GREEN, 'fill-opacity': 0.09, stroke: GREEN, 'stroke-width': 1.7}, g);
  
  
  const oe = mk('path', {d: ellipsePath(cfg.orangeEllipse, cfg.x, cfg.y), fill: ORANGE, 'fill-opacity': 0.08, stroke: '#e87d5a', 'stroke-width': 1.7}, g);
  
  
  const h = mk('line', {x1: cfg.hx0, x2: cfg.hx1, y1: cfg.y(0), y2: cfg.y(0), stroke: '#000', 'stroke-width': 2, 'stroke-dasharray': '10 6'}, g);
  
  
  const v = mk('line', {x1: cfg.x(0), x2: cfg.x(0), y1: 564, y2: 1066, stroke: '#000', 'stroke-width': 2, 'stroke-dasharray': '10 6'}, g);
  
  
  cfg.green.forEach(p => {
    const c = mk('circle', {cx: cfg.x(p[0]), cy: cfg.y(p[1]), r: cfg.r, fill: GREEN}, g);
    
    
  });
  cfg.orange.forEach(p => {
    const c = mk('circle', {cx: cfg.x(p[0]), cy: cfg.y(p[1]), r: cfg.r, fill: ORANGE}, g);
    
    
  });
  const gc = mk('circle', {cx: cfg.x(cfg.greenCentroid[0]), cy: cfg.y(cfg.greenCentroid[1]), r: cfg.rc, fill: GREEN}, g);
  
  
  const oc = mk('circle', {cx: cfg.x(cfg.orangeCentroid[0]), cy: cfg.y(cfg.orangeCentroid[1]), r: cfg.rc, fill: ORANGE}, g);
  
  
  cfg.xTicks.forEach(t => {
    const l = mk('line', {x1: cfg.x(t), x2: cfg.x(t), y1: 1063, y2: 1067, stroke: '#222', 'stroke-width': 1.4}, g);
    
    
    const lab = mk('text', {x: cfg.x(t) + cfg.xLabelShift(t), y: 1084.5, 'text-anchor': 'middle', 'font-size': 18, fill: '#555'}, g, minus(t));
    
    
  });
  cfg.yTicks.forEach(t => {
    const l = mk('line', {x1: cfg.yAxisX, x2: cfg.yAxisX + 3.5, y1: cfg.y(t), y2: cfg.y(t), stroke: '#222', 'stroke-width': 1.4}, g);
    
    
    const lab = mk('text', {x: cfg.yAxisX - 2.5, y: cfg.y(t) + 5, 'text-anchor': 'end', 'font-size': 18, fill: '#555'}, g, minus(t));
    
    
  });
}
drawPca(document.getElementById('panel-c'), {
  x: xC, y: yC, r: 2.6, rc: 4.8, hx0: 91, hx1: 667, yAxisX: 88,
  green: greenPointsC, orange: orangePointsC, greenCentroid: greenCentroidC, orangeCentroid: orangeCentroidC,
  greenEllipse: greenEllipseC, orangeEllipse: orangeEllipseC, xTicks: xTicksC, yTicks: yTicksC,
  xLabelShift: t => (t === 0 ? 2 : t < 0 ? -3 : -5)
});
drawPca(document.getElementById('panel-d'), {
  x: xD, y: yD, r: 2.5, rc: 4.5, hx0: 823, hx1: 1400, yAxisX: 823.5,
  green: greenPointsD, orange: orangePointsD, greenCentroid: greenCentroidD, orangeCentroid: orangeCentroidD,
  greenEllipse: greenEllipseD, orangeEllipse: orangeEllipseD, xTicks: xTicksD, yTicks: yTicksD,
  xLabelShift: t => (t === 0 ? 2 : -4)
});

// Panels E & F
function drawSpheres(g, pts, xs, ys, kind, r) {
  pts.forEach(p => {
    const c = mk('circle', {cx: xs(p[0]), cy: ys(p[1]), r: r, fill: 'url(#sphere-' + kind + ')', stroke: kind === 'control' ? '#0a3140' : '#6f5820', 'stroke-width': 0.5}, g);
    
    
  });
}
const gE = document.getElementById('points-e');
drawSpheres(gE, epilepsyE, xE, yE, 'epilepsy', 5.8);
drawSpheres(gE, controlE, xE, yE, 'control', 5.7);
const gF = document.getElementById('points-f');
drawSpheres(gF, epilepsyF, xF, yF, 'epilepsy', 5.9);
drawSpheres(gF, controlF, xF, yF, 'control', 5.7);
drawSpheres(gF, epilepsyFrontF, xF, yF, 'epilepsy', 5.9);
</script>
</body>
</html>
